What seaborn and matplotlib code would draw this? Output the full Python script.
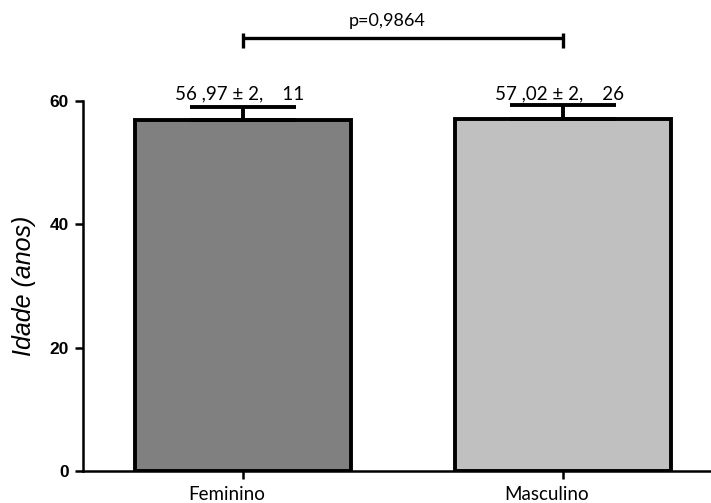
import matplotlib
matplotlib.use("Agg")
import matplotlib.pyplot as plt
import matplotlib.transforms as mtransforms
import seaborn as sns
import pandas as pd

# data
groups = ["Feminino", "Masculino"]
mean_age = [56.97, 57.02]
sem_age = [2.11, 2.26]
bar_labels = ["56 ,97 \u00b1 2,    11", "57 ,02 \u00b1 2,    26"]
bar_colors = ["#808080", "#c0c0c0"]
p_text = "p=0,9864"

df = pd.DataFrame({"sexo": groups, "idade": mean_age})

sns.set_style("ticks")
plt.rcParams["font.family"] = ["Liberation Sans", "DejaVu Sans"]
plt.rcParams["text.color"] = "black"
plt.rcParams["axes.labelcolor"] = "black"
plt.rcParams["axes.edgecolor"] = "black"
plt.rcParams["xtick.color"] = "black"
plt.rcParams["ytick.color"] = "black"

fig = plt.figure(figsize=(7.11, 5.03), dpi=100)
ax = fig.add_axes([0.1163, 0.0636, 0.8837, 0.7356])

sns.barplot(
    data=df,
    x="sexo",
    y="idade",
    hue="sexo",
    palette=bar_colors,
    legend=False,
    errorbar=None,
    width=0.675,
    edgecolor="black",
    linewidth=2.8,
    saturation=1,
    ax=ax
)

# upper error bars only (SEM)
ax.errorbar(
    range(len(groups)),
    mean_age,
    yerr=[[0] * len(groups), sem_age],
    fmt="none",
    ecolor="black",
    elinewidth=2.8,
    capsize=38,
    capthick=2.8,
    zorder=5,
    clip_on=False
)

# value annotations
for i, txt in enumerate(bar_labels):
    ax.text(i - 0.01, 60.2, txt, ha="center", va="baseline",
            fontsize=13.5, family=["Lato", "DejaVu Sans"], clip_on=False)

# comparison bracket
ax.plot([0, 1], [70.2, 70.2], color="black", lw=2.4, clip_on=False,
        solid_capstyle="butt")
for xb in [0, 1]:
    ax.plot([xb, xb], [68.6, 71.0], color="black", lw=2.4, clip_on=False,
            solid_capstyle="butt")
ax.text(0.45, 71.6, p_text, ha="center", va="bottom", fontsize=13,
        family=["Lato", "DejaVu Sans"], clip_on=False)

ax.set_xlim(-0.501, 1.4625)
ax.set_ylim(0, 60)
ax.set_yticks([0, 20, 40, 60])
ax.set_xlabel("")
ax.set_ylabel("Idade (anos)", fontsize=18, fontstyle="italic", labelpad=10)

sns.despine(ax=ax)
ax.spines["left"].set_linewidth(1.8)
ax.spines["bottom"].set_linewidth(1.8)
ax.tick_params(axis="both", width=1.8, length=6, color="black")
ax.tick_params(axis="y", pad=4)
ax.tick_params(axis="x", pad=5)

for lab in ax.get_yticklabels():
    lab.set_fontweight("bold")
    lab.set_fontsize(12.5)

offset = mtransforms.ScaledTranslation(-16 / 100, 0, fig.dpi_scale_trans)
for lab in ax.get_xticklabels():
    lab.set_fontsize(13.5)
    lab.set_family(["Lato", "DejaVu Sans"])
    lab.set_transform(lab.get_transform() + offset)

fig.savefig("out.png", dpi=100)
plt.close(fig)
